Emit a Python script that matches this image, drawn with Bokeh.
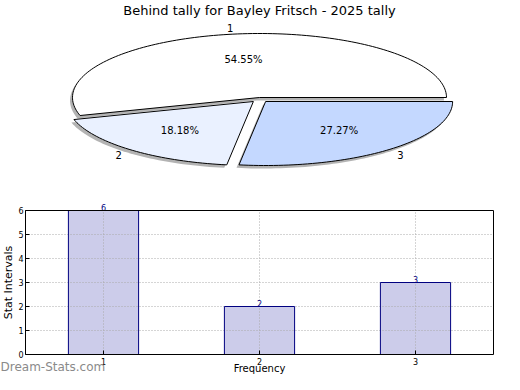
import math
from bokeh.plotting import figure
from bokeh.layouts import column
from bokeh.models import ColumnDataSource, Label, Range1d, FixedTicker, LinearAxis
from bokeh.core.properties import value
from bokeh.embed import file_html
from bokeh.resources import INLINE

# ---------------- data ----------------
title_text = "Behind tally for Bayley Fritsch - 2025 tally"
categories = ["1", "2", "3"]
values = [6, 2, 3]
slice_colors = ["#ffffff", "#eaf1ff", "#c4d8ff"]
explode = [0.0, 0.05, 0.05]
y_ticks = [0, 1, 2, 3, 4, 5, 6]
y_label = "Stat Intervals"
x_label = "Frequency"
watermark = "Dream-Stats.com"

FONT = "DejaVu Sans"

# ---------------- layout constants (px) ----------------
W = 504
PIE_H = 188
BAR_H = 374 - PIE_H
RX, RY = 187.0, 64.0            # pie ellipse radii
CX, CY = 259.0, 97.0            # pie centre
YS = 1.66                       # vertical stretch of explode offset

# bar plot box inside the bar figure (px)
BOX_L, BOX_R = 25.0, 493.0
BOX_T, BOX_B = 210.0 - PIE_H, 354.0 - PIE_H
X0, X1 = 0.5, 3.5
Y0, Y1 = 0.0, 6.0

# ---------------- pie ----------------
pie = figure(width=W, height=PIE_H, output_backend="svg", toolbar_location=None,
             x_range=Range1d(-CX / RX, (W - CX) / RX),
             y_range=Range1d(-(PIE_H - CY) / RY, CY / RY),
             x_axis_type=None, y_axis_type=None, min_border=0,
             min_border_top=0, min_border_bottom=0, min_border_left=0, min_border_right=0)
pie.grid.visible = False
pie.outline_line_color = None

total = float(sum(values))
sh_dx, sh_dy = -2.5 / RX, -3.0 / RY
slices_xs, slices_ys, shadow_xs, shadow_ys = [], [], [], []
lab_x, lab_y, pct_x, pct_y, pct_txt = [], [], [], [], []
start = 0.0
for i, v in enumerate(values):
    frac = v / total
    a0 = start
    a1 = start + frac * 2 * math.pi
    mid = 0.5 * (a0 + a1)
    dx = explode[i] * math.cos(mid)
    dy = explode[i] * YS * math.sin(mid)
    n = max(int(frac * 240), 10)
    xs = [dx] + [dx + math.cos(a0 + (a1 - a0) * k / n) for k in range(n + 1)]
    ys = [dy] + [dy + math.sin(a0 + (a1 - a0) * k / n) for k in range(n + 1)]
    slices_xs.append(xs)
    slices_ys.append(ys)
    shadow_xs.append([x + sh_dx for x in xs])
    shadow_ys.append([y + sh_dy for y in ys])
    lab_x.append(dx + 1.1 * math.cos(mid))
    lab_y.append(dy + 1.1 * math.sin(mid))
    pct_x.append(dx + 0.6 * math.cos(mid))
    pct_y.append(dy + 0.6 * math.sin(mid))
    pct_txt.append("%.2f%%" % (100.0 * frac))
    start = a1

pie.patches(shadow_xs, shadow_ys, fill_color="#9a9a9a", fill_alpha=0.75, line_color=None)
pie.patches(xs="xs", ys="ys", source=ColumnDataSource(dict(xs=slices_xs, ys=slices_ys, c=slice_colors)),
            fill_color="c", line_color="black", line_width=1)
pie.text(x=lab_x, y=lab_y, text=categories, text_align="center", text_baseline="middle",
         text_font=value(FONT), text_font_size="10px", text_color="black")
pie.text(x=pct_x, y=pct_y, text=pct_txt, text_align="center", text_baseline="middle",
         text_font=value(FONT), text_font_size="10px", text_color="black")
pie.add_layout(Label(x=0.0, y=(CY - 10) / RY, text=title_text,
                     text_align="center", text_baseline="middle",
                     text_font=FONT, text_font_size="13px", text_color="black"))

# ---------------- bars ----------------
sx = (X1 - X0) / (BOX_R - BOX_L)          # data units per px
sy = (Y1 - Y0) / (BOX_B - BOX_T)
bx_range = Range1d(X0 - BOX_L * sx, X1 + (W - BOX_R) * sx)
by_range = Range1d(Y0 - (BAR_H - BOX_B) * sy, Y1 + BOX_T * sy)

bar = figure(width=W, height=BAR_H, output_backend="svg", toolbar_location=None,
             x_range=bx_range, y_range=by_range,
             x_axis_type=None, y_axis_type=None, min_border=0,
             min_border_top=0, min_border_bottom=0, min_border_left=0, min_border_right=0)
bar.outline_line_color = None
bar.grid.visible = False

xs_num = [int(c) for c in categories]
# bar fill, then the dotted grid over it, then the bar outlines on top
bar.vbar(x=xs_num, top=values, width=0.45, fill_color="#ccccea", line_color=None)
bar.segment(x0=[X0] * len(y_ticks), x1=[X1] * len(y_ticks), y0=y_ticks, y1=y_ticks,
            line_color="#ababab", line_dash="1 2", line_width=1)
bar.segment(x0=xs_num, x1=xs_num, y0=[Y0] * len(xs_num), y1=[Y1] * len(xs_num),
            line_color="#ababab", line_dash="1 2", line_width=1)
bar.vbar(x=xs_num, top=values, width=0.45, fill_color=None, line_color="#000080", line_width=1)

bar.text(x=xs_num, y=values, text=[str(v) for v in values], text_align="center",
         text_baseline="bottom", text_font=value(FONT), text_font_size="8px", text_color="#000080")


def style(ax):
    ax.axis_line_color = "black"
    ax.axis_line_width = 1
    ax.major_tick_in = 4
    ax.major_tick_out = 0
    ax.minor_tick_line_color = None
    ax.major_tick_line_color = "black"
    ax.major_label_text_font = FONT
    ax.major_label_text_font_size = "8px"
    ax.major_label_text_color = "black"
    ax.major_label_standoff = 3
    ax.axis_label_text_font = FONT
    ax.axis_label_text_font_style = "normal"
    ax.axis_label_text_color = "black"


xaxis = LinearAxis(fixed_location=Y0, bounds=(X0, X1), ticker=FixedTicker(ticks=xs_num))
style(xaxis)
bar.add_layout(xaxis, "below")

yaxis = LinearAxis(fixed_location=X0, bounds=(Y0, Y1), ticker=FixedTicker(ticks=y_ticks),
                   axis_label=y_label)
style(yaxis)
yaxis.major_label_standoff = 2
yaxis.axis_label_text_font_size = "11px"
yaxis.axis_label_standoff = 0
bar.add_layout(yaxis, "left")

top_axis = LinearAxis(fixed_location=Y1, bounds=(X0, X1), ticker=FixedTicker(ticks=[]))
style(top_axis)
bar.add_layout(top_axis, "above")
right_axis = LinearAxis(fixed_location=X1, bounds=(Y0, Y1), ticker=FixedTicker(ticks=[]))
style(right_axis)
bar.add_layout(right_axis, "right")

bar.add_layout(Label(x=(X0 + X1) / 2.0, y=by_range.start + 1 * sy, text=x_label,
                     text_align="center", text_baseline="bottom",
                     text_font=FONT, text_font_size="10px", text_color="black"))
bar.add_layout(Label(x=bx_range.start, y=Y0 - 12 * sy, text=watermark,
                     text_align="left", text_baseline="middle",
                     text_font=FONT, text_font_size="12px", text_color="#8a8a8a"))

layout = column(pie, bar, spacing=0)
open("out.html", "w").write(file_html(layout, INLINE))
